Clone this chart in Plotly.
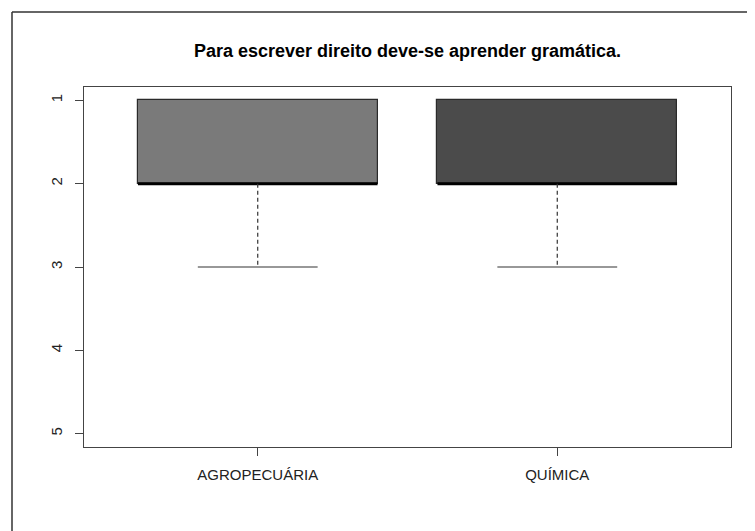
import plotly.graph_objects as go

categories = ["AGROPECUÁRIA", "QUÍMICA"]
minimum = [1, 1]
q1 = [1, 1]
median = [2, 2]
q3 = [2, 2]
maximum = [3, 3]
fill_colors = ["#7a7a7a", "#4b4b4b"]
title = "Para escrever direito deve-se aprender gramática."
y_ticks = [1, 2, 3, 4, 5]

xpos = [i + 1 for i in range(len(categories))]
box_w = 0.8
cap_w = 0.4

fig = go.Figure()

# boxes (Q1..Q3)
fig.add_trace(go.Bar(
    x=xpos, base=q1, y=[b - a for a, b in zip(q1, q3)], width=box_w,
    marker=dict(color=fill_colors, line=dict(color="#2a2a2a", width=1.2)),
    showlegend=False, hoverinfo="skip"))

for i, xc in enumerate(xpos):
    # median line
    fig.add_trace(go.Scatter(
        x=[xc - box_w / 2, xc + box_w / 2], y=[median[i], median[i]],
        mode="lines", line=dict(color="black", width=3), showlegend=False, hoverinfo="skip"))
    # upper whisker (dashed) from q3 to maximum
    fig.add_trace(go.Scatter(
        x=[xc, xc], y=[q3[i], maximum[i]],
        mode="lines", line=dict(color="#333333", width=1.2, dash="4px,3px"), showlegend=False, hoverinfo="skip"))
    fig.add_trace(go.Scatter(
        x=[xc - cap_w / 2, xc + cap_w / 2], y=[maximum[i], maximum[i]],
        mode="lines", line=dict(color="#333333", width=1.2), showlegend=False, hoverinfo="skip"))
    # lower whisker from q1 to minimum
    if minimum[i] != q1[i]:
        fig.add_trace(go.Scatter(
            x=[xc, xc], y=[q1[i], minimum[i]],
            mode="lines", line=dict(color="#333333", width=1.2, dash="4px,3px"), showlegend=False, hoverinfo="skip"))
        fig.add_trace(go.Scatter(
            x=[xc - cap_w / 2, xc + cap_w / 2], y=[minimum[i], minimum[i]],
            mode="lines", line=dict(color="#333333", width=1.2), showlegend=False, hoverinfo="skip"))

# page body adds an 8px offset; compensate
off = 8
ml, mr, mt, mb = 84 - off, 24, 87 - off, 84
W, H = 755 - off, 531 - off
pw, ph = W - ml - mr, H - mt - mb

# outer frame (left & top edges)
fx = (12 - off - ml) / pw
fy = 1 + (mt - (12 - off)) / ph
fig.add_shape(type="line", xref="paper", yref="paper", x0=fx, x1=fx, y0=-0.5, y1=fy,
              line=dict(color="#333333", width=1.5))
fig.add_shape(type="line", xref="paper", yref="paper", x0=fx, x1=1.5, y0=fy, y1=fy,
              line=dict(color="#333333", width=1.5))

fig.update_layout(
    width=W, height=H,
    margin=dict(l=ml, r=mr, t=mt, b=mb),
    paper_bgcolor="white", plot_bgcolor="white",
    font=dict(family="Liberation Sans, Arial, sans-serif", color="#222222"),
    title=dict(text="<b>" + title + "</b>", x=(ml + pw / 2) / W, xanchor="center",
               y=1 - (51 - off) / H, yanchor="middle", font=dict(size=18, color="black")),
    bargap=0,
    xaxis=dict(range=[0.42, 2.58], tickvals=xpos, ticktext=categories,
               showgrid=False, zeroline=False, showline=True, mirror=True,
               linecolor="#444444", linewidth=1.2, ticks="outside", ticklen=8,
               tickcolor="#444444", ticklabelstandoff=6,
               tickfont=dict(size=15, color="#222222")),
    yaxis=dict(range=[5.16, 0.84], tickvals=y_ticks, ticktext=[str(v) for v in y_ticks],
               showgrid=False, zeroline=False, showline=True, mirror=True,
               linecolor="#444444", linewidth=1.2, ticks="outside", ticklen=8,
               tickcolor="#444444", tickangle=-90, ticklabelstandoff=7,
               tickfont=dict(size=15, color="#222222")),
)

fig.write_html("out.html")
